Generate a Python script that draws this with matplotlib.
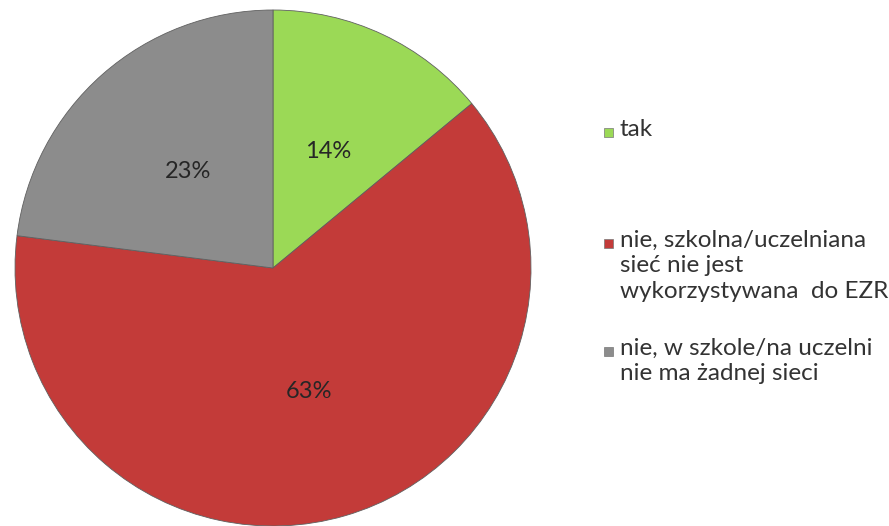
import matplotlib.pyplot as plt
from matplotlib.patches import Rectangle

labels = ["tak",
          "nie, szkolna/uczelniana\nsieć nie jest\nwykorzystywana  do EZR",
          "nie, w szkole/na uczelni\nnie ma żadnej sieci"]
values = [14, 63, 23]
colors = ["#9bd956", "#c33b39", "#8c8c8c"]

plt.rcParams['font.family'] = ['Lato', 'DejaVu Sans']

W, H = 889, 526
fig = plt.figure(figsize=(W / 100, H / 100), dpi=100)
cx, cy, R = 273, 268, 258
ax = fig.add_axes([(cx - R) / W, (H - cy - R) / H, 2 * R / W, 2 * R / H])
wedges, texts, autotexts = ax.pie(
    values, colors=colors, startangle=90, counterclock=False,
    autopct='%d%%', pctdistance=0.5,
    wedgeprops=dict(edgecolor='#606060', linewidth=0.6),
    textprops=dict(fontsize=17, color='#262626'))
ax.set_xlim(-1, 1)
ax.set_ylim(-1, 1)
ax.set_aspect('equal')

# legend drawn by hand so it sits like the original
rows = [132, 243, 351]
for lab, col, y in zip(labels, colors, rows):
    fig.add_artist(Rectangle((604 / W, (H - y - 5) / H), 9 / W, 9 / H,
                             transform=fig.transFigure, facecolor=col,
                             edgecolor='#777777', linewidth=0.5))
    fig.text(620 / W, (H - y + 13) / H, lab, fontsize=17.5, color='#333333',
             va='top', ha='left', linespacing=1.25)

fig.savefig('out.png', dpi=100)
